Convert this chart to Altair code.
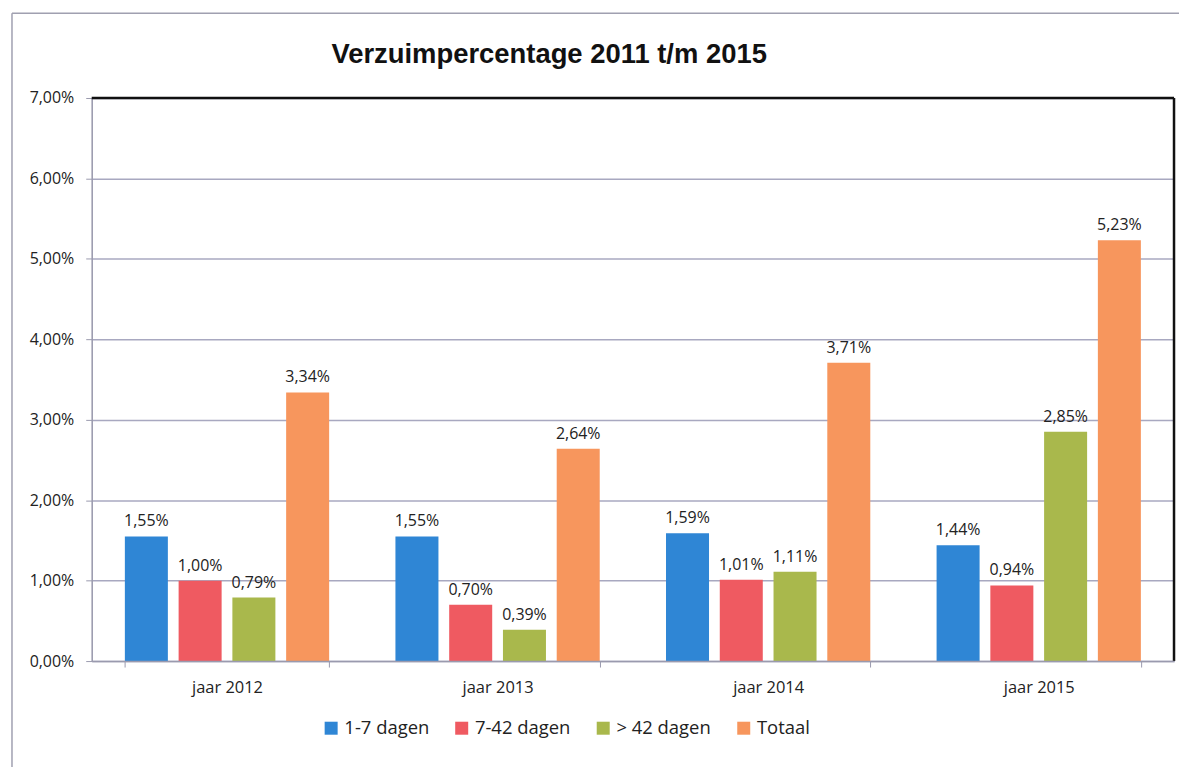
import altair as alt
import pandas as pd

years = ["jaar 2012", "jaar 2013", "jaar 2014", "jaar 2015"]
series = ["1-7 dagen", "7-42 dagen", "> 42 dagen", "Totaal"]
v_1_7 = [1.55, 1.55, 1.59, 1.44]
v_7_42 = [1.00, 0.70, 1.01, 0.94]
v_42 = [0.79, 0.39, 1.11, 2.85]
v_tot = [3.34, 2.64, 3.71, 5.23]
colors = ["#2F86D5", "#EF5A61", "#A9B84C", "#F7965D"]
y_ticks = [0, 1, 2, 3, 4, 5, 6, 7]
title_text = "Verzuimpercentage 2011 t/m 2015"

rows = []
for name, vals in zip(series, [v_1_7, v_7_42, v_42, v_tot]):
    for yr, v in zip(years, vals):
        rows.append({"jaar": yr, "serie": name, "waarde": v})
df = pd.DataFrame(rows)

FONT = "Open Sans"
W, H = 1086, 565
AX = "#9A9AAE"

x_scale = alt.Scale(paddingInner=0.245, paddingOuter=0.1225)
xoff = alt.XOffset("serie:N", sort=series, scale=alt.Scale(paddingInner=0.2, paddingOuter=0))

bars = alt.Chart(df).mark_bar().encode(
    x=alt.X("jaar:N", sort=years, title=None, scale=x_scale,
            axis=alt.Axis(labelAngle=0, labelFont=FONT, labelFontSize=16.5, labelColor="#222",
                          labelPadding=13, tickBand="extent", tickSize=6,
                          tickColor=AX, domainColor=AX, domainWidth=1.5, zindex=1)),
    xOffset=xoff,
    y=alt.Y("waarde:Q", title=None,
            scale=alt.Scale(domain=[0, 7], nice=False),
            axis=alt.Axis(values=y_ticks, labelExpr="replace(format(datum.value, '.2f'), '.', ',') + '%'",
                          labelFont=FONT, labelFontSize=16, labelColor="#222", labelPadding=12,
                          tickSize=6, tickColor=AX, domainColor=AX, domainWidth=1.5,
                          gridColor="#A8A8C0", gridWidth=1.5, zindex=0)),
    color=alt.Color("serie:N", sort=series,
                    scale=alt.Scale(domain=series, range=colors),
                    legend=alt.Legend(title=None, orient="none", direction="horizontal",
                                      legendX=231, legendY=623, symbolType="square",
                                      symbolSize=170, symbolStrokeWidth=0, labelFont=FONT,
                                      labelFontSize=18.5, labelColor="#222", columnPadding=23,
                                      labelOffset=4)),
)

labels = alt.Chart(df).transform_calculate(
    lab="replace(format(datum.waarde, '.2f'), '.', ',') + '%'"
).mark_text(dy=-15, font=FONT, fontSize=16, color="#222").encode(
    x=alt.X("jaar:N", sort=years, scale=x_scale),
    xOffset=xoff,
    y=alt.Y("waarde:Q"),
    text="lab:N",
)

dummy = pd.DataFrame({"t": [title_text]})
title = alt.Chart(dummy).mark_text(font="Liberation Sans", fontSize=27.5, fontWeight="bold",
                                   color="#111", align="center", baseline="alphabetic").encode(
    x=alt.value(459), y=alt.value(-35), text="t:N")
top_border = alt.Chart(dummy).mark_rule(color="#111", strokeWidth=2.5).encode(
    x=alt.value(0), x2=alt.value(W), y=alt.value(0))
right_border = alt.Chart(dummy).mark_rule(color="#111", strokeWidth=2.5).encode(
    x=alt.value(W), y=alt.value(0), y2=alt.value(H))
frame_top = alt.Chart(dummy).mark_rule(color="#A0A0B0", strokeWidth=1.5).encode(
    x=alt.value(-80), x2=alt.value(1100), y=alt.value(-85))
frame_left = alt.Chart(dummy).mark_rule(color="#A0A0B0", strokeWidth=1.5).encode(
    x=alt.value(-80), y=alt.value(-85), y2=alt.value(680))

chart = alt.layer(bars, labels, top_border, right_border, frame_top, frame_left, title).properties(
    width=W, height=H,
    autosize=alt.AutoSizeParams(type="none"),
    padding={"left": 84, "top": 89, "right": 5, "bottom": 105},
).configure_view(stroke=None).configure(background="white")

chart.save("out.html", embed_options={"renderer": "svg", "actions": False})
